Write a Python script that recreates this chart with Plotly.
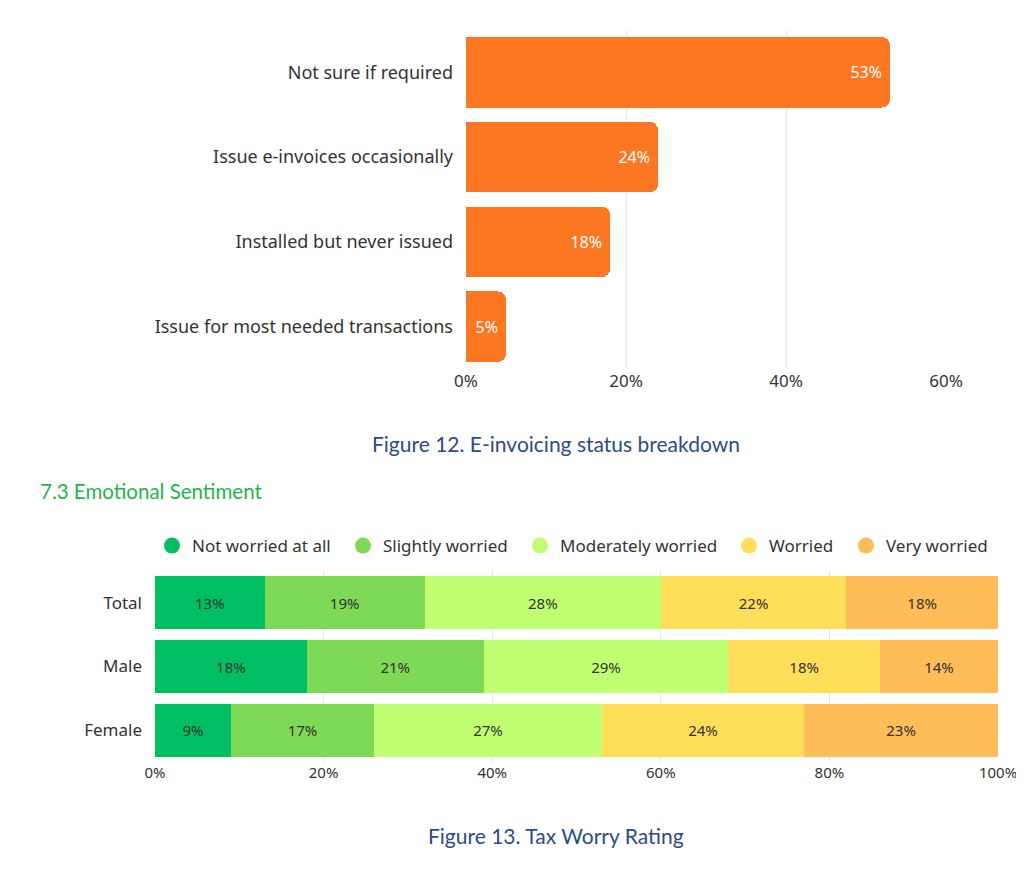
import plotly.graph_objects as go

# Figure 12 data
status_labels = [
    "Not sure if required",
    "Issue e-invoices occasionally",
    "Installed but never issued",
    "Issue for most needed transactions",
]
status_values = [53, 24, 18, 5]

# Figure 13 data
groups = ["Total", "Male", "Female"]
worry_levels = ["Not worried at all", "Slightly worried", "Moderately worried", "Worried", "Very worried"]
worry_values = {
    "Not worried at all": [13, 18, 9],
    "Slightly worried": [19, 21, 17],
    "Moderately worried": [28, 29, 27],
    "Worried": [22, 18, 24],
    "Very worried": [18, 14, 23],
}
worry_colors = ["#00bf63", "#7ed957", "#c1ff72", "#ffde59", "#ffbd59"]

FONT = "Noto Sans"
W, H = 1024, 875
PAGE_PAD = 8  # the page body adds a small offset


def px_x(p):
    return (p - PAGE_PAD) / W


def px_y(p):
    return 1 - (p - PAGE_PAD) / H


fig = go.Figure()

fig.add_trace(
    go.Bar(
        x=status_values,
        y=status_labels,
        orientation="h",
        marker={"color": "#fd7622", "line": {"width": 0}, "cornerradius": 8},
        text=[f"{v}%" for v in status_values],
        texttemplate="%{text}",
        textposition="inside",
        insidetextanchor="end",
        textangle=0,
        textfont={"color": "white", "size": 16, "family": FONT},
        hoverinfo="skip",
        showlegend=False,
        xaxis="x",
        yaxis="y",
    )
)

# legend marker positions (px) so each entry sits where the original has it
legend_marker_x = [172, 363, 540, 749, 866]

legends = {}
for i, (level, color) in enumerate(zip(worry_levels, worry_colors)):
    fig.add_trace(
        go.Bar(
            x=worry_values[level],
            y=groups,
            orientation="h",
            marker={"color": color, "line": {"width": 0}},
            text=[f"{v}%" for v in worry_values[level]],
            texttemplate="%{text}",
            textposition="inside",
            insidetextanchor="middle",
            textangle=0,
            textfont={"color": "#333333", "size": 15, "family": FONT},
            showlegend=False,
            xaxis="x2",
            yaxis="y2",
        )
    )
    legend_name = "legend" if i == 0 else f"legend{i + 1}"
    # circle markers for the legend
    fig.add_trace(
        go.Scatter(
            x=[None],
            y=[None],
            mode="markers",
            name=level,
            marker={"color": color, "size": 16, "symbol": "circle"},
            legend=legend_name,
            xaxis="x2",
            yaxis="y2",
        )
    )
    legends[legend_name] = {
        "orientation": "h",
        "x": px_x(legend_marker_x[i] - 20),
        "xanchor": "left",
        "y": px_y(546),
        "yanchor": "middle",
        "font": {"size": 17, "color": "#333333"},
        "bgcolor": "rgba(0,0,0,0)",
        "itemclick": False,
    }

fig.update_layout(
    width=W,
    height=H,
    margin={"l": 0, "r": 0, "t": 0, "b": 0, "autoexpand": False},
    paper_bgcolor="white",
    plot_bgcolor="white",
    barmode="stack",
    bargap=0.17,
    font={"family": FONT, "color": "#333333", "size": 16},
    xaxis={
        "domain": [px_x(466), px_x(946)],
        "range": [0, 60],
        "tickvals": [0, 20, 40, 60],
        "ticktext": ["0%", "20%", "40%", "60%"],
        "showgrid": True,
        "gridcolor": "#e8e8e8",
        "zeroline": False,
        "showline": False,
        "automargin": False,
        "tickfont": {"size": 17},
        "anchor": "y",
    },
    yaxis={
        "domain": [px_y(369), px_y(30)],
        "autorange": "reversed",
        "ticks": "",
        "ticklabelstandoff": 12,
        "automargin": False,
        "tickfont": {"size": 18},
        "anchor": "x",
    },
    xaxis2={
        "domain": [px_x(155), px_x(998)],
        "range": [0, 100],
        "tickvals": [0, 20, 40, 60, 80, 100],
        "ticktext": ["0%", "20%", "40%", "60%", "80%", "100%"],
        "showgrid": True,
        "gridcolor": "#e6e6e6",
        "zeroline": False,
        "showline": False,
        "automargin": False,
        "tickfont": {"size": 15},
        "anchor": "y2",
    },
    yaxis2={
        "domain": [px_y(762), px_y(571)],
        "autorange": "reversed",
        "ticks": "",
        "ticklabelstandoff": 12,
        "automargin": False,
        "tickfont": {"size": 17},
        "anchor": "x2",
    },
    **legends,
)

caption_color = "#2b4c86"
fig.add_annotation(
    text="Figure 12. E-invoicing status breakdown",
    x=px_x(556), y=px_y(444), xref="paper", yref="paper",
    showarrow=False, font={"size": 21, "color": caption_color, "family": "Lato"},
)
fig.add_annotation(
    text="7.3 Emotional Sentiment",
    x=px_x(38), y=px_y(491), xref="paper", yref="paper", xanchor="left",
    showarrow=False, font={"size": 20.5, "color": "#1fb54a", "family": "Lato"},
)
fig.add_annotation(
    text="Figure 13. Tax Worry Rating",
    x=px_x(556), y=px_y(850), xref="paper", yref="paper",
    showarrow=False, font={"size": 21, "color": caption_color, "family": "Lato"},
)

fig.write_html("out.html")
